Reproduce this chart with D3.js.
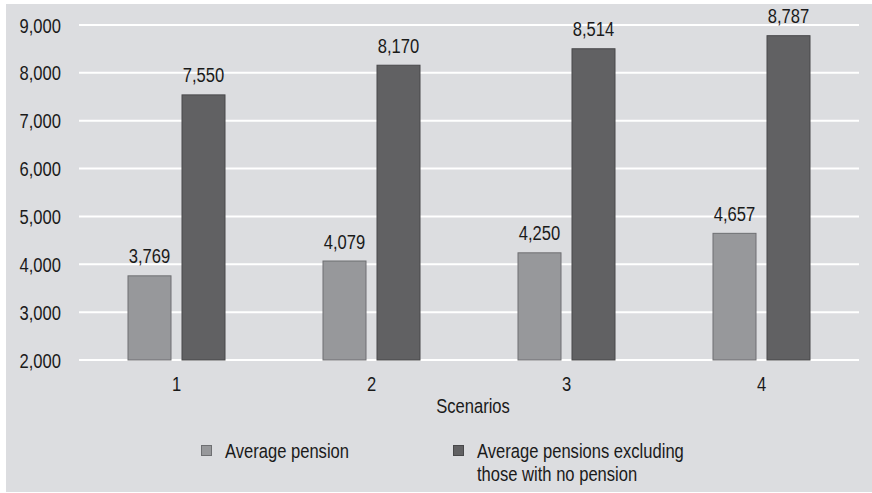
<!DOCTYPE html>
<html>
<head>
<meta charset="utf-8">
<script src="https://cdn.jsdelivr.net/npm/d3@7"></script>
<style>
  html, body { margin: 0; padding: 0; background: #ffffff; }
  svg { display: block; }
  text { font-family: "Liberation Sans Narrow", "Arial Narrow", "Liberation Sans", Arial, sans-serif; fill: #1a1a1a; }
</style>
</head>
<body>
<svg id="chart" width="872" height="493"></svg>
<script>
// Average pension by scenario
const scenarios = ["1", "2", "3", "4"];
const seriesNames = ["Average pension", "Average pensions excluding those with no pension"];
const legendLines = [["Average pension"], ["Average pensions excluding", "those with no pension"]];
const averagePension = [3769, 4079, 4250, 4657];
const averageExcludingNone = [7550, 8170, 8514, 8787];
const yTicks = [2000, 3000, 4000, 5000, 6000, 7000, 8000, 9000];

const fills = ["#97989b", "#616163"];
const strokes = ["#6e6f72", "#48484a"];
const FONT = '"Liberation Sans", Arial, sans-serif';
const FS = 19.5;
const NARROW = 0.85; // horizontal condensing of the text face

const svg = d3.select("#chart");

// condensed text placed at (x, y)
function label(parent, x, y, str, anchor) {
  return parent.append("g")
    .attr("transform", `translate(${x},${y})`)
    .append("text")
    .attr("transform", `scale(${NARROW},1)`)
    .attr("text-anchor", anchor || "start")
    .attr("font-size", FS)
    .style("font-family", FONT)
    .attr("fill", "#1a1a1a")
    .text(str);
}

// panel background
svg.append("rect")
  .attr("x", 6).attr("y", 4)
  .attr("width", 866).attr("height", 488)
  .attr("fill", "#dcdde0");

const plotLeft = 79, plotRight = 859, plotTop = 25, plotBottom = 360;

const x = d3.scaleBand().domain(scenarios).range([plotLeft, plotRight]);
const y = d3.scaleLinear().domain([2000, 9000]).range([plotBottom, plotTop]);

// horizontal gridlines
svg.append("g")
  .selectAll("line")
  .data(yTicks)
  .join("line")
  .attr("x1", plotLeft).attr("x2", plotRight)
  .attr("y1", d => y(d)).attr("y2", d => y(d))
  .attr("stroke", "#ffffff")
  .attr("stroke-width", 2);

// y axis labels
const yAxis = d3.axisLeft(y).tickValues(yTicks).tickFormat(d3.format(",")).tickSize(0).tickPadding(0);
const gy = svg.append("g").attr("transform", "translate(61,0)").call(yAxis);
gy.select(".domain").remove();
gy.selectAll("text").attr("font-size", FS).attr("dy", "0.36em")
  .attr("transform", `scale(${NARROW},1)`)
  .style("font-family", FONT).attr("fill", "#1a1a1a");

// x axis labels
const xAxis = d3.axisBottom(x).tickSize(0).tickPadding(0);
const gx = svg.append("g").attr("transform", `translate(0,${plotBottom})`).call(xAxis);
gx.select(".domain").remove();
gx.selectAll("text").attr("font-size", FS).attr("dy", 0).attr("y", 31)
  .attr("transform", `scale(${NARROW},1)`)
  .style("font-family", FONT).attr("fill", "#1a1a1a");

// bars with value labels
const barW = 44, gap = 10;
const series = [averagePension, averageExcludingNone];

series.forEach((vals, si) => {
  const g = svg.append("g");
  const xs = i => x(scenarios[i]) + x.bandwidth() / 2 + (si === 0 ? -(barW + gap / 2) : gap / 2);
  g.selectAll("rect")
    .data(vals)
    .join("rect")
    .attr("x", (d, i) => xs(i) + 0.5)
    .attr("y", d => y(d) + 0.5)
    .attr("width", barW - 1)
    .attr("height", d => y(2000) - y(d) - 0.5)
    .attr("fill", fills[si])
    .attr("stroke", strokes[si])
    .attr("stroke-width", 1);
  vals.forEach((d, i) => {
    label(g, xs(i) + barW / 2, y(d) - 12, d3.format(",")(d), "middle");
  });
});

// axis title
label(svg, (plotLeft + plotRight) / 2 + 4, 413, "Scenarios", "middle");

// legend
const legendX = [201, 453];
seriesNames.forEach((name, i) => {
  svg.append("rect")
    .attr("x", legendX[i] + 0.5).attr("y", 445.5)
    .attr("width", 10).attr("height", 10)
    .attr("fill", fills[i]).attr("stroke", strokes[i]);
  legendLines[i].forEach((line, li) => {
    label(svg, legendX[i] + 24, 458 + li * 23, line, "start");
  });
});
</script>
</body>
</html>
